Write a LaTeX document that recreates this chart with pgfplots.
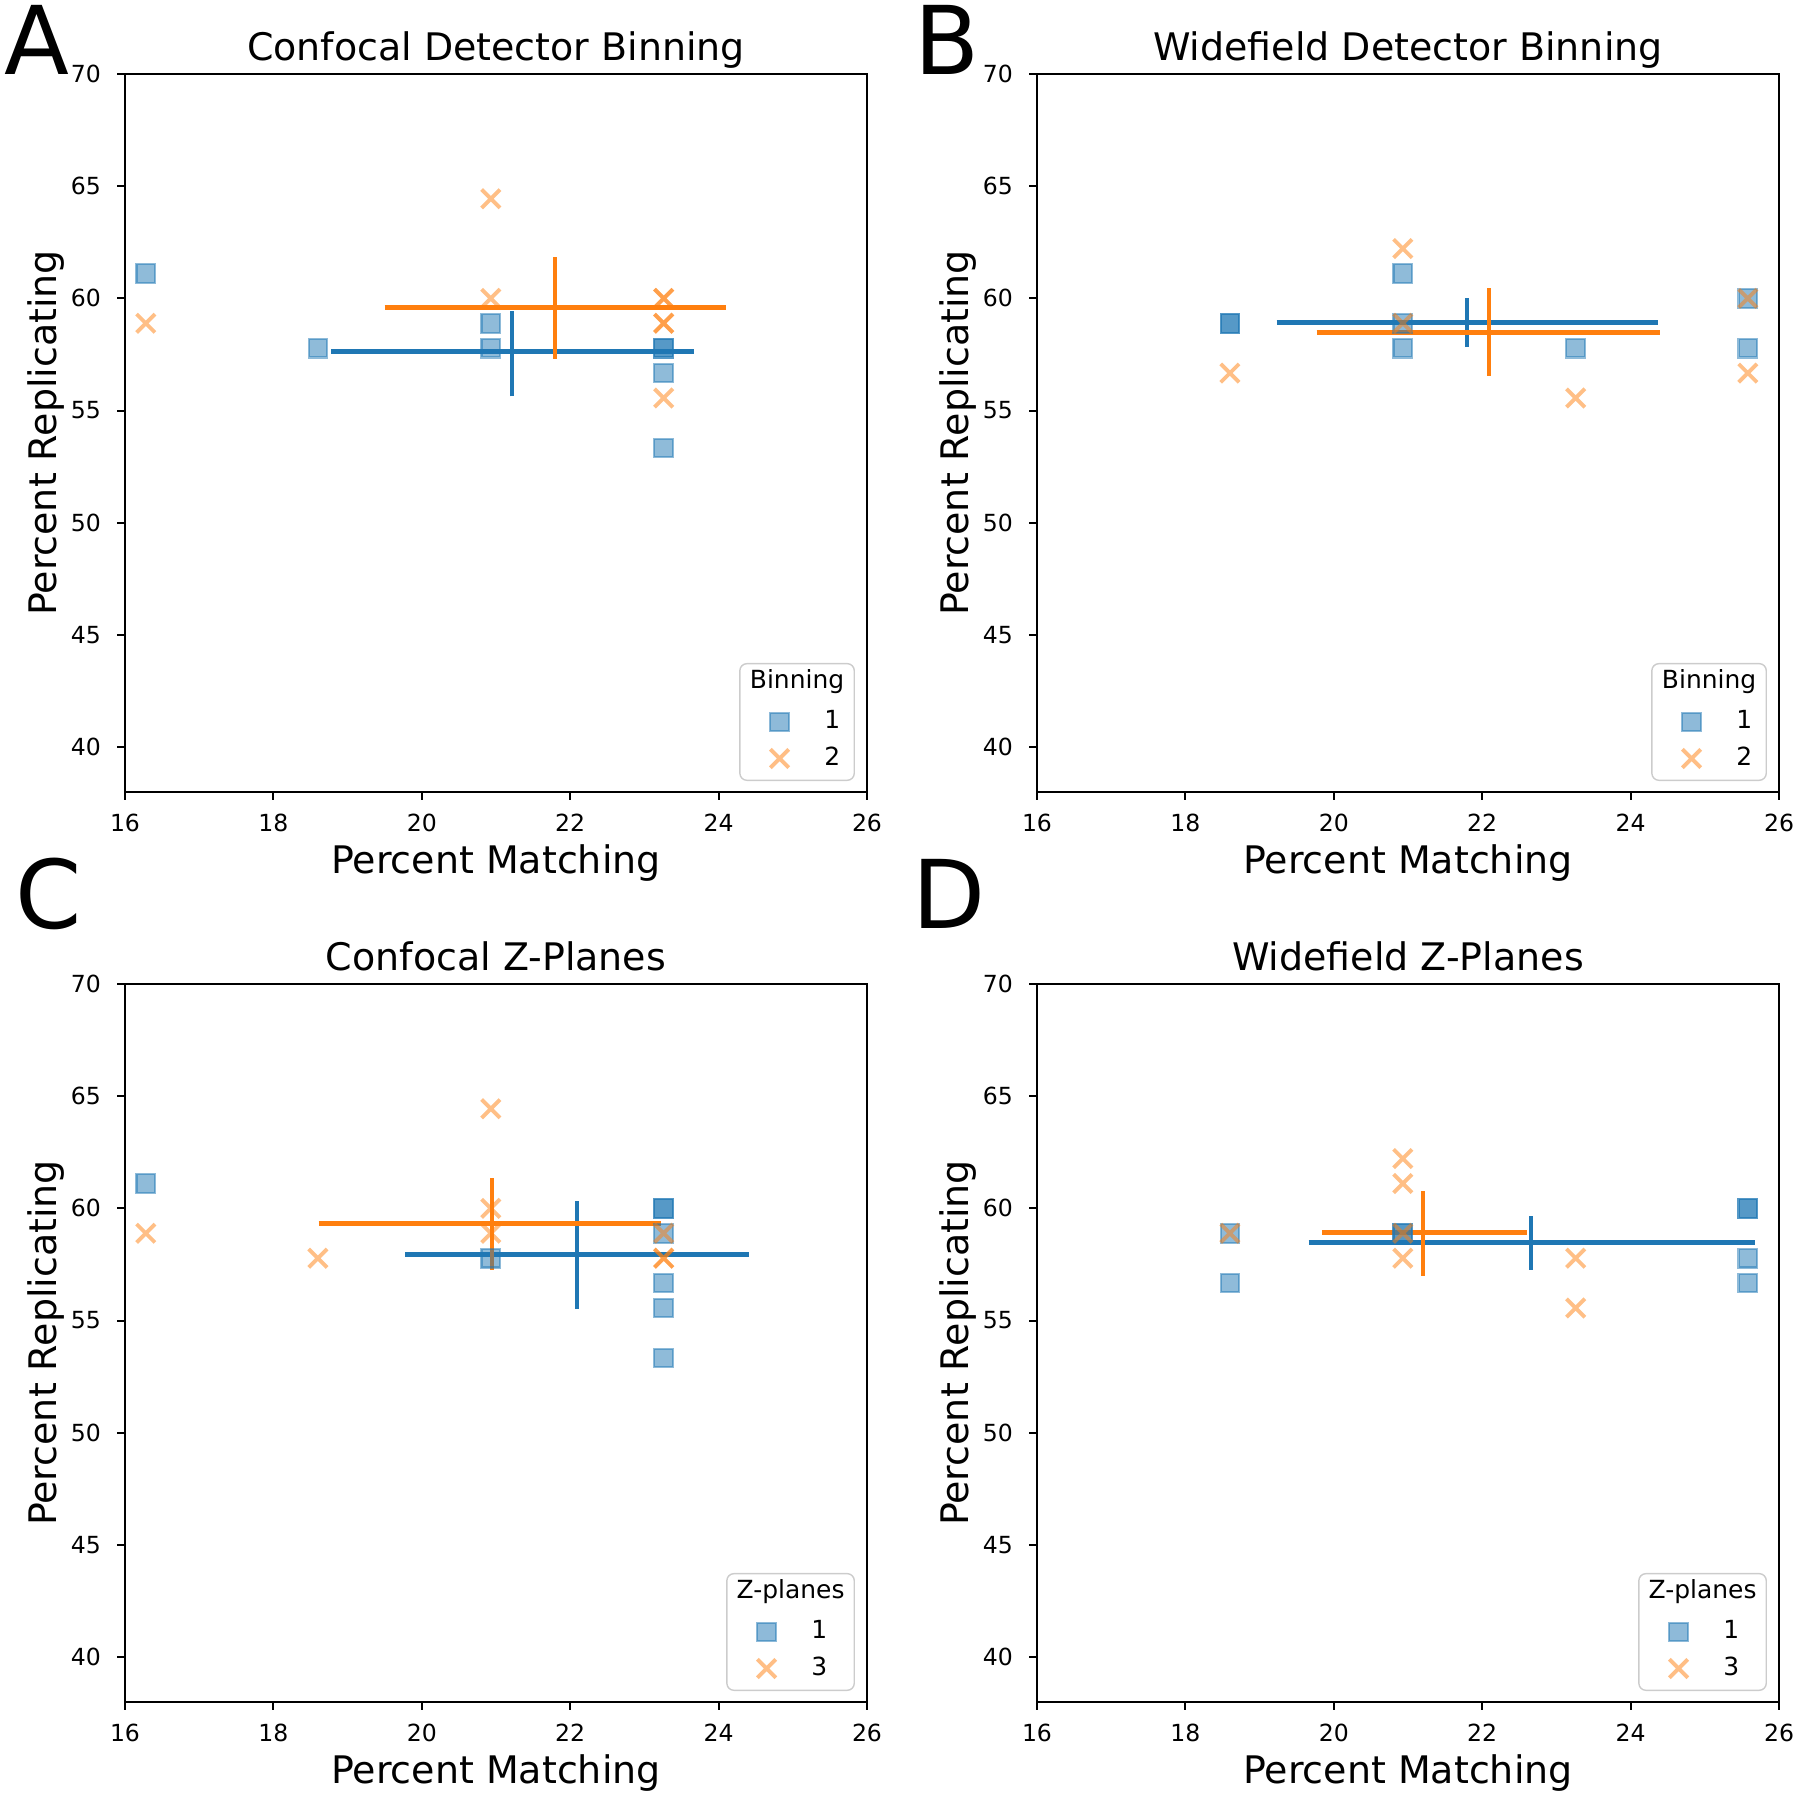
\documentclass[border=0pt]{standalone}
\usepackage{pgfplots}
\pgfplotsset{compat=1.18}
\usepackage{fontspec}
\setmainfont{DejaVu Sans}
\definecolor{tabblue}{HTML}{1F77B4}
\definecolor{taborange}{HTML}{FF7F0E}
\newcommand{\legfont}{\fontsize{7.1}{8.5}\selectfont}
\pgfplotsset{
  panel/.style={
    width=7.42cm, height=7.18cm, scale only axis,
    anchor=south west,
    xmin=16, xmax=26, ymin=38, ymax=70,
    xtick={16,18,20,22,24,26}, ytick={40,45,50,55,60,65,70},
    tick pos=left,
    tick align=outside, major tick length=0.077cm,
    tick style={black, line width=0.55pt},
    axis line style={line width=0.55pt},
    /pgf/number format/assume math mode=true,
    tick label style={font=\fontsize{6.7}{8}\selectfont},
    yticklabel style={xshift=-0.04cm},
    xticklabel style={yshift=-0.02cm},
    label style={font=\fontsize{10.8}{12}\selectfont},
    title style={font=\fontsize{10.8}{12}\selectfont, at={(axis description cs:0.5,1.0209)}, anchor=base, yshift=-6.5pt},
    xlabel style={at={(axis description cs:0.5,-0.1135)}, anchor=base},
    ylabel style={at={(axis description cs:-0.106,0.5)}, anchor=center},
    xlabel={Percent Matching}, ylabel={Percent Replicating},
    legend style={at={(axis description cs:0.9838,0.0153)}, anchor=south east,
      draw=black!20, rounded corners=2pt, fill=white, fill opacity=0.8, text opacity=1,
      font=\legfont, row sep=0.13cm, inner xsep=0.12cm, inner ysep=0.1cm,
      nodes={inner sep=0pt, text height=5.3pt, text depth=1.4pt},
      /tikz/every even column/.append style={column sep=0.21cm}},
    legend cell align=left,
  },
  sq/.style={only marks, mark=square*, mark size=2.65pt, color=tabblue,
    mark options={fill opacity=0.5, draw opacity=0.5, line width=0.6pt},
    legend image code/.code={\path (-0.17cm,0cm) (0.54cm,0cm); \draw[##1] plot coordinates {(0.10cm,0cm)};}},
  cr/.style={only marks, mark=x, mark size=3.7pt, color=taborange,
    mark options={draw opacity=0.5, line width=1.1pt},
    legend image code/.code={\path (-0.17cm,0cm) (0.54cm,0cm); \draw[##1] plot coordinates {(0.10cm,0cm)};}},
  ebh/.style={no markers, line width=1.45pt, forget plot},
  ebv/.style={no markers, line width=1.15pt, forget plot},
}
\begin{document}
\begin{tikzpicture}
\useasboundingbox (0,0) rectangle (18,18);
\node[font=\fontsize{27}{30}\selectfont] at (0.37,17.60) {A};
\node[font=\fontsize{27}{30}\selectfont] at (9.47,17.60) {B};
\node[font=\fontsize{27}{30}\selectfont] at (0.49,9.06) {C};
\node[font=\fontsize{27}{30}\selectfont] at (9.49,9.06) {D};
% Panel A
\begin{axis}[panel, at={(1.25cm,10.08cm)}, title={Confocal Detector Binning}, legend style={name=legA}]
\addlegendimage{empty legend}\addlegendentry{\hspace*{0.18cm}}
\addplot[sq] coordinates {(16.28,61.11) (18.60,57.78) (20.93,58.89) (20.93,57.78) (23.26,57.78) (23.26,57.78) (23.26,56.67) (23.26,53.33)};
\addlegendentry{1}
\addplot[cr] coordinates {(16.28,58.89) (20.93,64.44) (20.93,60.00) (23.26,60.00) (23.26,60.00) (23.26,58.89) (23.26,58.89) (23.26,55.56)};
\addlegendentry{2}
\addplot[ebh, tabblue] coordinates {(18.78,57.63) (23.67,57.63)};
\addplot[ebv, tabblue] coordinates {(21.22,55.63) (21.22,59.45)};
\addplot[ebh, taborange] coordinates {(19.50,59.58) (24.10,59.58)};
\addplot[ebv, taborange] coordinates {(21.80,57.30) (21.80,61.85)};
\end{axis}
\node[font=\legfont] at ([yshift=-0.19cm]legA.north) {Binning};
% Panel B
\begin{axis}[panel, at={(10.37cm,10.08cm)}, title={Widefield Detector Binning}, legend style={name=legB}]
\addlegendimage{empty legend}\addlegendentry{\hspace*{0.18cm}}
\addplot[sq] coordinates {(18.60,58.89) (18.60,58.89) (20.93,61.11) (20.93,58.89) (20.93,57.78) (23.26,57.78) (25.58,60.00) (25.58,57.78)};
\addlegendentry{1}
\addplot[cr] coordinates {(18.60,56.67) (20.93,62.22) (20.93,58.89) (23.26,55.56) (25.58,60.00) (25.58,56.67)};
\addlegendentry{2}
\addplot[ebh, tabblue] coordinates {(19.23,58.92) (24.37,58.92)};
\addplot[ebv, tabblue] coordinates {(21.79,57.83) (21.79,60.00)};
\addplot[ebh, taborange] coordinates {(19.77,58.49) (24.40,58.49)};
\addplot[ebv, taborange] coordinates {(22.09,56.55) (22.09,60.47)};
\end{axis}
\node[font=\legfont] at ([yshift=-0.19cm]legB.north) {Binning};
% Panel C
\begin{axis}[panel, at={(1.25cm,0.98cm)}, title={Confocal Z-Planes}, legend style={name=legC}]
\addlegendimage{empty legend}\addlegendentry{\hspace*{0.31cm}}
\addplot[sq] coordinates {(16.28,61.11) (20.93,57.78) (23.26,60.00) (23.26,60.00) (23.26,58.89) (23.26,56.67) (23.26,55.56) (23.26,53.33)};
\addlegendentry{1}
\addplot[cr] coordinates {(16.28,58.89) (18.60,57.78) (20.93,64.44) (20.93,60.00) (20.93,58.89) (23.26,58.89) (23.26,57.78) (23.26,57.78)};
\addlegendentry{3}
\addplot[ebh, tabblue] coordinates {(19.78,57.94) (24.41,57.94)};
\addplot[ebv, tabblue] coordinates {(22.09,55.51) (22.09,60.34)};
\addplot[ebh, taborange] coordinates {(18.61,59.32) (23.23,59.32)};
\addplot[ebv, taborange] coordinates {(20.94,57.26) (20.94,61.36)};
\end{axis}
\node[font=\legfont] at ([yshift=-0.19cm]legC.north) {Z-planes};
% Panel D
\begin{axis}[panel, at={(10.37cm,0.98cm)}, title={Widefield Z-Planes}, legend style={name=legD}]
\addlegendimage{empty legend}\addlegendentry{\hspace*{0.31cm}}
\addplot[sq] coordinates {(18.60,58.89) (18.60,56.67) (20.93,58.89) (20.93,58.89) (25.58,60.00) (25.58,60.00) (25.58,57.78) (25.58,56.67)};
\addlegendentry{1}
\addplot[cr] coordinates {(18.60,58.89) (20.93,62.22) (20.93,61.11) (20.93,58.89) (20.93,57.78) (23.26,57.78) (23.26,55.56)};
\addlegendentry{3}
\addplot[ebh, tabblue] coordinates {(19.66,58.47) (25.67,58.47)};
\addplot[ebv, tabblue] coordinates {(22.66,57.26) (22.66,59.67)};
\addplot[ebh, taborange] coordinates {(19.84,58.92) (22.60,58.92)};
\addplot[ebv, taborange] coordinates {(21.20,56.99) (21.20,60.79)};
\end{axis}
\node[font=\legfont] at ([yshift=-0.19cm]legD.north) {Z-planes};
\end{tikzpicture}
\end{document}
